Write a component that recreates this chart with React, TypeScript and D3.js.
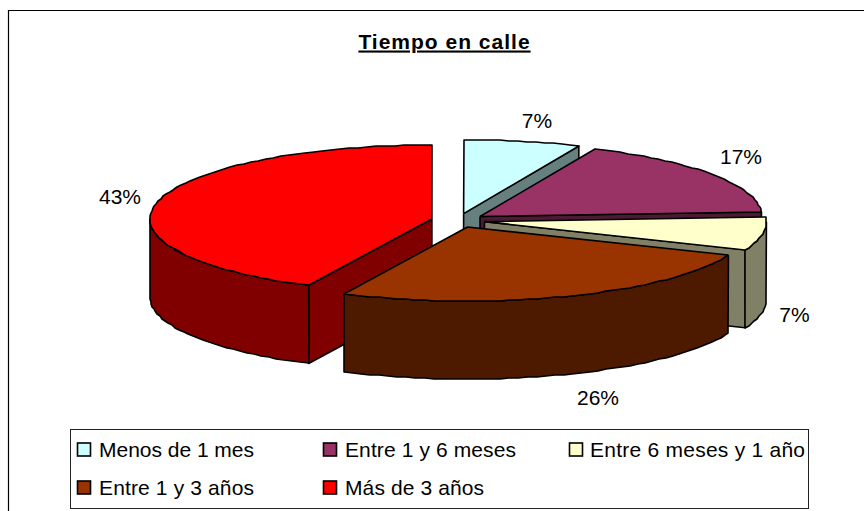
import React from "react";
import * as d3 from "d3";

const title = "Tiempo en calle";
const categories = ["Menos de 1 mes", "Entre 1 y 6 meses", "Entre 6 meses y 1 año", "Entre 1 y 3 años", "Más de 3 años"];
const values = [6.7, 17.3, 7.2, 26, 42.8];
const topColors = ["#CCFFFF", "#993366", "#FFFFCC", "#993300", "#FF0000"];
const sideColors = ["#668080", "#4D1A33", "#808066", "#4D1A00", "#800000"];
const labelPositions = [[537, 128], [741, 164], [794.5, 322], [598, 405], [120, 204]];
const legendPositions = [[77, 449.5], [323, 449.5], [569, 449.5], [77, 487.5], [323, 487.5]];
const legendTextWidths = [155, 171, 215, 155, 139];
const drawOrder = [0, 1, 2, 4, 3];

const cx = 458, cy = 220.5, rx = 282, ry = 74, depth = 78, explode = 0.095;
const font = "'Liberation Sans', Arial, sans-serif";

const pie = d3.pie<number>().sort(null).value((d) => d);
const arcs = pie(values);

const ptOf = (a: number, ox: number, oy: number, dy = 0): [number, number] => [
  ox + rx * Math.sin(a),
  oy - ry * Math.cos(a) + dy,
];
const line = d3.line();
const rim = (a0: number, a1: number, ox: number, oy: number, dy = 0) => {
  const n = Math.max(2, Math.round(Math.abs(a1 - a0) * 30));
  return d3.range(0, n + 1).map((i) => {
    const p = ptOf(a0 + ((a1 - a0) * i) / n, ox, oy, dy);
    return [Math.round(p[0]), Math.round(p[1])] as [number, number];
  });
};

export default function App() {
  return (
    <svg width={864} height={511} style={{ position: "absolute", left: 0, top: 0, background: "#fff" }}>
      <path d="M8.5 511V10.5H864" fill="none" stroke="#000" strokeWidth={1.2} />
      <text x={444.5} y={48.5} textAnchor="middle" fontFamily={font} fontWeight="bold" fontSize={21} letterSpacing={1} textDecoration="underline">{title}</text>
      {drawOrder.map((i) => {
        const d = arcs[i];
        const mid = (d.startAngle + d.endAngle) / 2;
        const ox = cx + explode * rx * Math.sin(mid);
        const oy = cy - explode * ry * Math.cos(mid);
        const apex: [number, number] = [ox, oy];
        const top = [apex, ...rim(d.startAngle, d.endAngle, ox, oy), apex];
        const walls: [number, number][][] = [];
        const radial = (a: number) => {
          const p = ptOf(a, ox, oy);
          walls.push([apex, p, [p[0], p[1] + depth], [ox, oy + depth], apex]);
        };
        if (d.endAngle > 0 && d.endAngle < Math.PI) radial(d.endAngle);
        if (d.startAngle > Math.PI && d.startAngle < 2 * Math.PI) radial(d.startAngle);
        const a0 = Math.max(d.startAngle, Math.PI / 2);
        const a1 = Math.min(d.endAngle, (3 * Math.PI) / 2);
        if (a1 > a0) {
          walls.push([...rim(a0, a1, ox, oy), ...rim(a1, a0, ox, oy, depth), ptOf(a0, ox, oy)]);
        }
        return (
          <g key={i} stroke="#000" strokeWidth={1.6} strokeLinejoin="round">
            {walls.map((w, j) => <path key={j} d={line(w) ?? ""} fill={sideColors[i]} />)}
            <path d={line(top) ?? ""} fill={topColors[i]} />
          </g>
        );
      })}
      {values.map((v, i) => (
        <text key={i} x={labelPositions[i][0]} y={labelPositions[i][1]} textAnchor="middle" fontFamily={font} fontSize={21} fill="#000">{Math.round(v)}%</text>
      ))}
      <rect x={70.5} y={429.5} width={738} height={79} fill="#fff" stroke="#222" strokeWidth={1} />
      {categories.map((c, i) => {
        const [x, y] = legendPositions[i];
        return (
          <g key={c}>
            <rect x={x + 0.5} y={y - 6.5} width={13} height={13} fill={topColors[i]} stroke="#000" strokeWidth={1.6} />
            <text x={x + 22 - (i === 2 ? 1 : 0)} y={y + 7.5} fontFamily={font} fontSize={21} fill="#000" textLength={legendTextWidths[i]} lengthAdjust="spacing">{c}</text>
          </g>
        );
      })}
    </svg>
  );
}
